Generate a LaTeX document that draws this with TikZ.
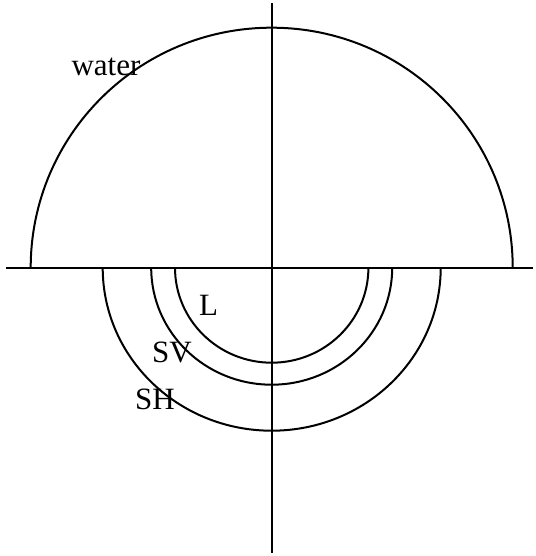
\documentclass[tikz,border=0pt]{standalone}
\usepackage{fontspec}
\setmainfont{Liberation Serif}
\tikzset{
  curve/.style={line width=2pt},
  lbl/.style={inner sep=0pt, font=\fontsize{31}{32}\selectfont}
}
\begin{document}
\begin{tikzpicture}[x=1pt,y=1pt]
\useasboundingbox (0,0) rectangle (535,556);
\coordinate (O) at (271.7,288.3);
\coordinate (xl) at (6,288.3);
\coordinate (xr) at (533,288.3);
\coordinate (yt) at (271.7,553);
\coordinate (yb) at (271.7,3);
\draw[curve] (xl) -- (xr);
\draw[curve] (yb) -- (yt);
\draw[curve] ([xshift=-241pt]O) arc[start angle=180,end angle=0,x radius=241,y radius=240];
\draw[curve] ([xshift=-169pt]O) arc[start angle=180,end angle=360,x radius=169,y radius=163];
\draw[curve] ([xshift=-120.5pt]O) arc[start angle=180,end angle=360,x radius=120.5,y radius=117];
\draw[curve] ([xshift=-96.7pt]O) arc[start angle=180,end angle=360,x radius=96.7,y radius=95];
\node[lbl] (water) at (106,489.5) {water};
\node[lbl] (L) at (208.5,250.5) {L};
\node[lbl] (SV) at (172,203.5) {SV};
\node[lbl] (SH) at (155,157) {SH};
\end{tikzpicture}
\end{document}
